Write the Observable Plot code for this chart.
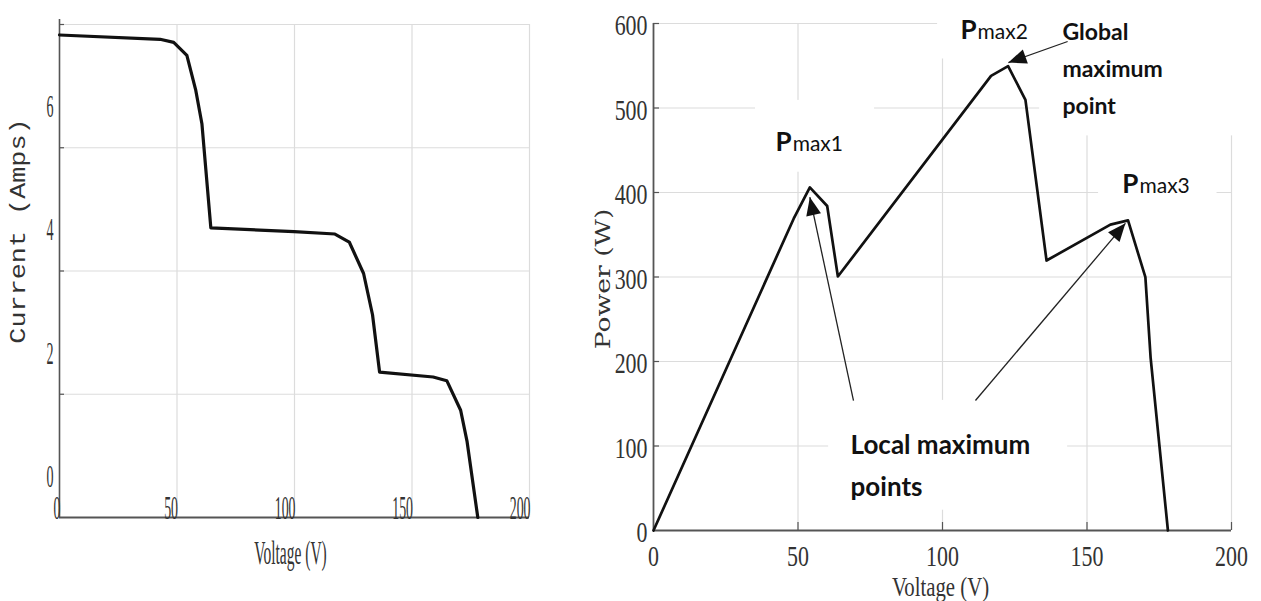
<!DOCTYPE html>
<html>
<head>
<meta charset="utf-8">
<script src="https://cdn.jsdelivr.net/npm/d3@7"></script>
<script src="https://cdn.jsdelivr.net/npm/@observablehq/plot@0.6"></script>
<style>
html, body { margin: 0; padding: 0; background: #fff; }
#wrap { display: flex; width: 1261px; height: 601px; overflow: hidden; }
#wrap > div { flex: 0 0 auto; }
#wrap svg { display: block; max-width: none; }
</style>
</head>
<body>
<div id="wrap"><div id="left"></div><div style="width:20px"></div><div id="right"></div></div>
<script>
// ---------- DATA ----------
// Left: I-V curve
const ivVoltage = [0, 42.8, 48.6, 54.2, 58, 60.6, 64.4, 99.8, 117.2, 123.3, 129.4, 133.2, 136.2, 159, 164.8, 170.7, 173.4, 178];
const ivCurrent = [7.83, 7.76, 7.71, 7.50, 6.93, 6.39, 4.70, 4.64, 4.60, 4.47, 3.96, 3.29, 2.36, 2.28, 2.22, 1.74, 1.24, 0];
const leftXTicks = [0, 50, 100, 150, 200];
const leftXGrid = [50, 100, 150, 200];
const leftYGrid = [2, 4, 6, 8];
const leftYLabels = [0, 2, 4, 6];

// Right: P-V curve
const pvVoltage = [0, 48.5, 54.1, 60.1, 63.8, 116.8, 122.7, 128.7, 136, 158.1, 164.2, 170.2, 172, 178];
const pvPower = [0, 369, 406, 384, 300.6, 538, 549.5, 509.7, 319.5, 362, 367, 299.8, 205, 0];
const rightXTicks = [0, 50, 100, 150, 200];
const rightXGrid = [50, 100, 150, 200];
const rightYTicks = [0, 100, 200, 300, 400, 500, 600];
const rightYGrid = [100, 200, 300, 400, 500, 600];

// Annotations (data coordinates)
const peakSub = ["max1", "max2", "max3"];
const peakLabelV = [47.8, 111.8, 167.8];
const peakLabelP = [459.5, 592, 409.8];
const arrowTailV = [143.3, 69.2, 111.4];
const arrowTailP = [578.7, 153.8, 153.8];
const arrowTipV = [122.8, 54.1, 163.3];
const arrowTipP = [553.8, 394.4, 363.5];
const noteText = ["Global\nmaximum\npoint", "Local maximum\npoints"];
const noteV = [141.5, 68.2];
const noteP = [611, 125];
// white backgrounds of the annotation text boxes
const boxV1 = [35.3, 98.3, 133.6, 154, 60.6];
const boxV2 = [76.5, 134, 206, 195, 143.3];
const boxP1 = [424, 558, 467, 373, 24];
const boxP2 = [509, 632, 632, 438, 154];

// ---------- helpers ----------
function squeeze(nodes, s) {
  nodes.forEach(t => {
    let tr = t.getAttribute("transform");
    if (!tr) {
      const x = t.getAttribute("x") || 0, y = t.getAttribute("y") || 0;
      t.removeAttribute("x"); t.removeAttribute("y");
      tr = `translate(${x},${y})`;
    }
    t.setAttribute("transform", `${tr} scale(${s},1)`);
  });
}
function sel(svg, q) { return Array.from(svg.querySelectorAll(q)); }
function byText(svg, str) { return sel(svg, "text").filter(t => t.textContent === str); }

const serif = "'Liberation Serif', 'Times New Roman', serif";
const gridStyle = {stroke: "#dcdcdc", strokeOpacity: 1, strokeWidth: 1.2};

// ---------- LEFT CHART ----------
const L = {w: 560, h: 601, ml: 59, mr: 31, mt: 24, mb: 84};
const leftFrameW = L.w - L.ml - L.mr;
const ivRows = ivVoltage.map((v, i) => ({v, i: ivCurrent[i]}));

const left = Plot.plot({
  width: L.w, height: L.h,
  marginLeft: L.ml, marginRight: L.mr, marginTop: L.mt, marginBottom: L.mb,
  style: {background: "white", color: "#333", fontFamily: serif},
  x: {domain: [0, 200]},
  y: {domain: [0, 8]},
  marks: [
    Plot.gridX({ticks: leftXGrid, ...gridStyle}),
    Plot.gridY({ticks: leftYGrid, ...gridStyle}),
    Plot.tickY(leftYGrid, {y: d => d, insetRight: leftFrameW - 5, stroke: "#555", strokeWidth: 1.2}),
    Plot.ruleX([0], {stroke: "#555", strokeWidth: 1.6, insetTop: -5}),
    Plot.ruleY([0], {stroke: "#555", strokeWidth: 1.8}),
    Plot.axisX({ticks: leftXTicks, tickSize: 0, tickPadding: 0, textAnchor: "end", dx: 1, dy: -22,
      fontSize: 33, fontFamily: serif, label: null, tickFormat: d => String(d)}),
    Plot.axisY({ticks: leftYLabels, tickSize: 0, tickPadding: 6, dy: -41,
      fontSize: 32, fontFamily: serif, label: null, tickFormat: d => String(d)}),
    Plot.line(ivRows, {x: "v", y: "i", stroke: "#111", strokeWidth: 3.2, strokeLinejoin: "round"}),
    Plot.text(["Current (Amps)"], {text: d => d, frameAnchor: "left", textAnchor: "middle", lineAnchor: "middle",
      rotate: -90, dx: -42, dy: -40,
      fontFamily: "'Liberation Mono', 'Courier New', monospace", fontSize: 22, fill: "#333"}),
    Plot.text(["Voltage (V)"], {text: d => d, frameAnchor: "bottom", textAnchor: "middle", lineAnchor: "middle",
      dx: -4, dy: 36, fontFamily: serif, fontSize: 33, fill: "#333"})
  ]
});
squeeze(sel(left, 'g[aria-label="x-axis tick label"] text'), 0.42);
squeeze(sel(left, 'g[aria-label="y-axis tick label"] text'), 0.44);
squeeze(byText(left, "Voltage (V)"), 0.47);
squeeze(byText(left, "Current (Amps)"), 1.22);
document.getElementById("left").appendChild(left);

// ---------- RIGHT CHART ----------
const R = {w: 681, h: 601, ml: 73, mr: 30, mt: 23, mb: 71};
const rFW = R.w - R.ml - R.mr, rFH = R.h - R.mt - R.mb;
const kx = rFW / 200, ky = rFH / 600;
const pvRows = pvVoltage.map((v, i) => ({v, p: pvPower[i]}));
const peakRows = peakSub.map((s, i) => ({sub: s, v: peakLabelV[i], p: peakLabelP[i]}));
const arrowRows = arrowTailV.map((v, i) => {
  const dx = (arrowTipV[i] - v) * kx, dy = -(arrowTipP[i] - arrowTailP[i]) * ky;
  return {tv: v, tp: arrowTailP[i], hv: arrowTipV[i], hp: arrowTipP[i], angle: Math.atan2(dx, -dy) * 180 / Math.PI};
});
const noteRows = noteText.map((t, i) => ({t, v: noteV[i], p: noteP[i]}));
const boxRows = boxV1.map((v, i) => ({v1: v, v2: boxV2[i], p1: boxP1[i], p2: boxP2[i]}));
const arrowHead = {draw(ctx) { ctx.moveTo(0, 0); ctx.lineTo(7.5, 18); ctx.lineTo(-7.5, 18); ctx.closePath(); }};
const calibri = "Lato, 'Open Sans', sans-serif";

const right = Plot.plot({
  width: R.w, height: R.h,
  marginLeft: R.ml, marginRight: R.mr, marginTop: R.mt, marginBottom: R.mb,
  style: {background: "white", color: "#333", fontFamily: serif},
  x: {domain: [0, 200]},
  y: {domain: [0, 600]},
  marks: [
    Plot.gridX({ticks: rightXGrid, ...gridStyle}),
    Plot.gridY({ticks: rightYGrid, ...gridStyle}),
    Plot.rect(boxRows, {x1: "v1", x2: "v2", y1: "p1", y2: "p2", fill: "white"}),
    Plot.tickY(rightYGrid, {y: d => d, insetRight: rFW - 6, stroke: "#555", strokeWidth: 1.2}),
    Plot.tickX(rightXGrid, {x: d => d, insetTop: rFH - 8, stroke: "#555", strokeWidth: 1.2}),
    Plot.ruleX([0], {stroke: "#555", strokeWidth: 1.8}),
    Plot.ruleY([0], {stroke: "#555", strokeWidth: 2}),
    Plot.axisX({ticks: rightXTicks, tickSize: 0, tickPadding: 14, fontSize: 30, fontFamily: serif,
      label: null, tickFormat: d => String(d)}),
    Plot.axisY({ticks: rightYTicks, tickSize: 0, tickPadding: 6, dy: 2, fontSize: 30, fontFamily: serif,
      label: null, tickFormat: d => String(d)}),
    Plot.line(pvRows, {x: "v", y: "p", stroke: "#111", strokeWidth: 2.7, strokeLinejoin: "round"}),
    Plot.link(arrowRows, {x1: "tv", y1: "tp", x2: "hv", y2: "hp", stroke: "#222", strokeWidth: 1.3}),
    Plot.dot(arrowRows, {x: "hv", y: "hp", rotate: "angle", symbol: arrowHead, fill: "#111", stroke: "none", r: 8}),
    Plot.text(peakRows, {x: "v", y: "p", text: () => "P", textAnchor: "end", fontFamily: calibri,
      fontWeight: "bold", fontSize: 26, fill: "#111"}),
    Plot.text(peakRows, {x: "v", y: "p", text: "sub", textAnchor: "start", dx: 1, dy: 1.6,
      fontFamily: calibri, fontSize: 21, fill: "#111"}),
    Plot.text(noteRows, {x: "v", y: "p", text: "t", textAnchor: "start", lineAnchor: "top",
      fontFamily: calibri, fontWeight: "bold", fontSize: 23, lineHeight: 1.6, fill: "#111",
      filter: (d, i) => i === 0}),
    Plot.text(noteRows, {x: "v", y: "p", text: "t", textAnchor: "start", lineAnchor: "top",
      fontFamily: calibri, fontWeight: "bold", fontSize: 26, lineHeight: 1.6, fill: "#111",
      filter: (d, i) => i === 1}),
    Plot.text(["Power (W)"], {text: d => d, frameAnchor: "left", textAnchor: "middle", lineAnchor: "middle",
      rotate: -90, dx: -50, dy: 2,
      fontFamily: "'DejaVu Serif', serif", fontSize: 20, fill: "#333"}),
    Plot.text(["Voltage (V)"], {text: d => d, frameAnchor: "bottom", textAnchor: "middle", lineAnchor: "middle",
      dx: -2, dy: 57, fontFamily: serif, fontSize: 27, fill: "#333"})
  ]
});
squeeze(sel(right, 'g[aria-label="x-axis tick label"] text'), 0.73);
squeeze(sel(right, 'g[aria-label="y-axis tick label"] text'), 0.73);
squeeze(byText(right, "Voltage (V)"), 0.77);
squeeze(byText(right, "Power (W)"), 1.33);
document.getElementById("right").appendChild(right);
</script>
</body>
</html>
